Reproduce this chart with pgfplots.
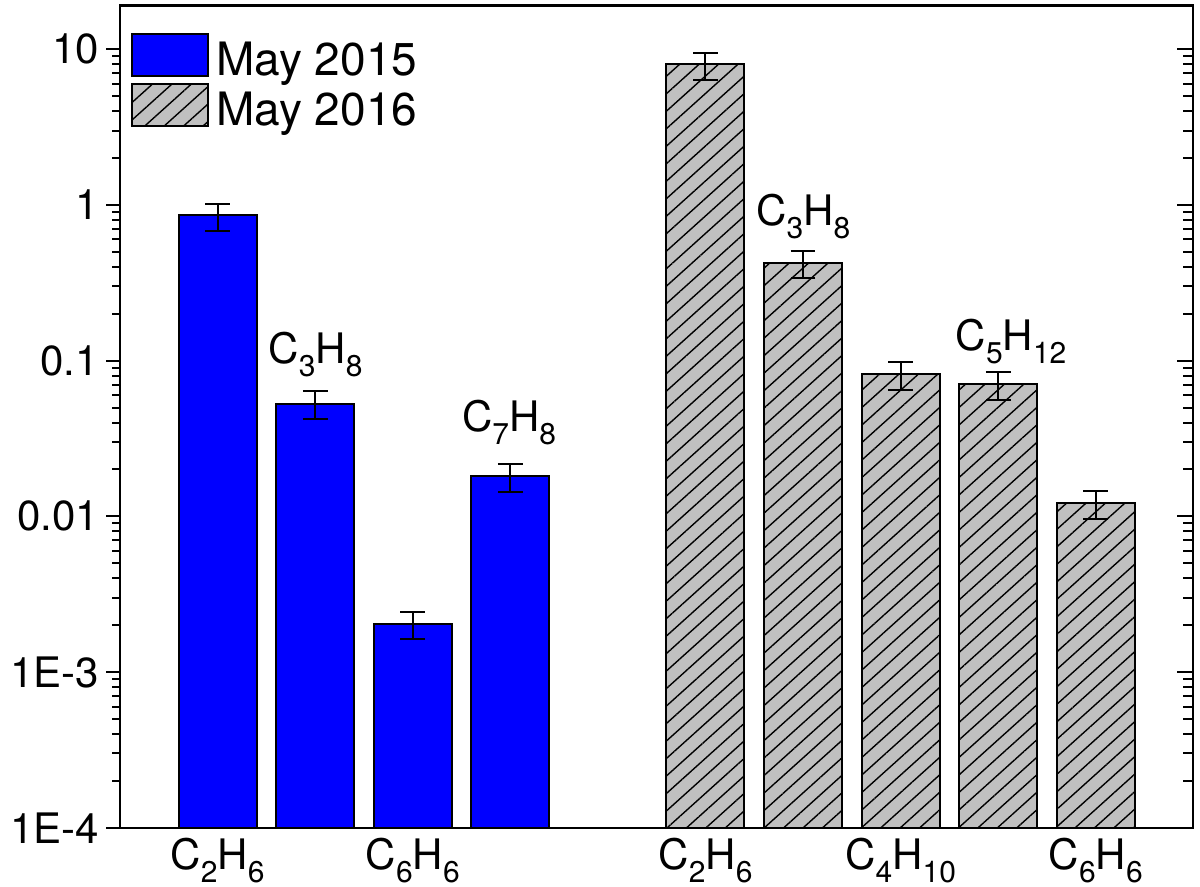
\documentclass[border=0pt]{standalone}
\usepackage{fontspec}
\setmainfont{TeX Gyre Heros}
\usepackage{pgfplots}
\pgfplotsset{compat=1.18}
\usetikzlibrary{patterns.meta}

\definecolor{barblue}{RGB}{0,0,255}
\definecolor{bargray}{RGB}{192,192,192}
% subscript set low, in the text font
\newcommand{\sub}[1]{\raisebox{-6.5bp}{\fontsize{15bp}{15bp}\selectfont #1}}
\newcommand{\lblfont}{\fontsize{21bp}{25bp}\selectfont}

\begin{document}
\begin{tikzpicture}
\begin{axis}[
 name=ax,
 scale only axis,
 width=536.6bp, height=411.1bp,
 ymode=log, log origin=infty,
 xmin=0, xmax=11,
 ymin=1e-4, ymax=19.1,
 clip=false,
 ytick={1e-4,1e-3,0.01,0.1,1,10},
 yticklabels={1E-4,1E-3,0.01,0.1,1,10},
 xtick={1,3,6,8,10},
 xticklabels={C\sub{2}H\sub{6},C\sub{6}H\sub{6},C\sub{2}H\sub{6},C\sub{4}H\sub{10},C\sub{6}H\sub{6}},
 ytick pos=left,
 tick align=outside,
 major tick length=7bp, minor tick length=4bp,
 xtick style={draw=none},
 tick style={black, line width=1bp},
 axis line style={line width=1.15bp},
 tick label style={font=\lblfont},
 xticklabel style={yshift=5.5bp},
 legend style={at={(0,1)}, anchor=north west, xshift=5.5bp, yshift=-13.5bp,
   draw=none, fill=none, font=\fontsize{23bp}{27bp}\selectfont,
   row sep=0.3bp, inner sep=0pt},
 legend cell align=left,
 legend image code/.code={\draw[#1] (0bp,-8bp) rectangle (38bp,13bp); \path (39.5bp,0bp);},
]

% May 2015
\addplot[ybar, bar width=0.8, bar shift=0pt, fill=barblue, draw=black, line width=1bp,
 error bars/.cd, y dir=both, y explicit,
 error bar style={line width=1bp, black},
 error mark options={rotate=90, mark size=6.2bp, line width=1bp, black}]
 coordinates {
 (1,0.861) += (0,0.157) -= (0,0.178)
 (2,0.0526) += (0,0.0109) -= (0,0.0106)
 (3,0.00203) += (0,0.0004) -= (0,0.0004)
 (4,0.0181) += (0,0.0035) -= (0,0.0037)
};

% May 2016
\addplot[ybar, bar width=0.8, bar shift=0pt, fill=bargray, draw=black, line width=1bp,
 postaction={pattern={Lines[angle=42,distance=6.5bp,line width=0.7bp]}},
 error bars/.cd, y dir=both, y explicit,
 error bar style={line width=1bp, black},
 error mark options={rotate=90, mark size=6.2bp, line width=1bp, black}]
 coordinates {
 (6,8.0) += (0,1.46) -= (0,1.69)
 (7,0.426) += (0,0.082) -= (0,0.088)
 (8,0.0820) += (0,0.0155) -= (0,0.0173)
 (9,0.0708) += (0,0.0133) -= (0,0.0150)
 (10,0.01223) += (0,0.0023) -= (0,0.0026)
};

\legend{May 2015, May 2016}

\node[anchor=base, inner sep=0pt, font=\lblfont] at (axis cs:2.004,0.0966) {C\sub{3}H\sub{8}};
\node[anchor=base, inner sep=0pt, font=\lblfont] at (axis cs:3.987,0.0349) {C\sub{7}H\sub{8}};
\node[anchor=base, inner sep=0pt, font=\lblfont] at (axis cs:7.004,0.743) {C\sub{3}H\sub{8}};
\node[anchor=base, inner sep=0pt, font=\lblfont] at (axis cs:9.132,0.117) {C\sub{5}H\sub{12}};
\end{axis}

% right-hand ticks point inward
\begin{axis}[
 scale only axis,
 width=536.6bp, height=411.1bp,
 ymode=log,
 xmin=0, xmax=11,
 ymin=1e-4, ymax=19.1,
 axis x line=none,
 axis y line*=right,
 y axis line style={-, line width=1.15bp},
 ytick={1e-4,1e-3,0.01,0.1,1,10},
 yticklabels={},
 tick align=inside,
 major tick length=8bp, minor tick length=5bp,
 tick style={black, line width=1bp},
]
\addplot[draw=none] coordinates {(1,1)};
\end{axis}

\pgfresetboundingbox
\path ([xshift=-60bp,yshift=-29.2bp]ax.south west) rectangle ([xshift=3.35bp,yshift=2.75bp]ax.north east);
\end{tikzpicture}
\end{document}
